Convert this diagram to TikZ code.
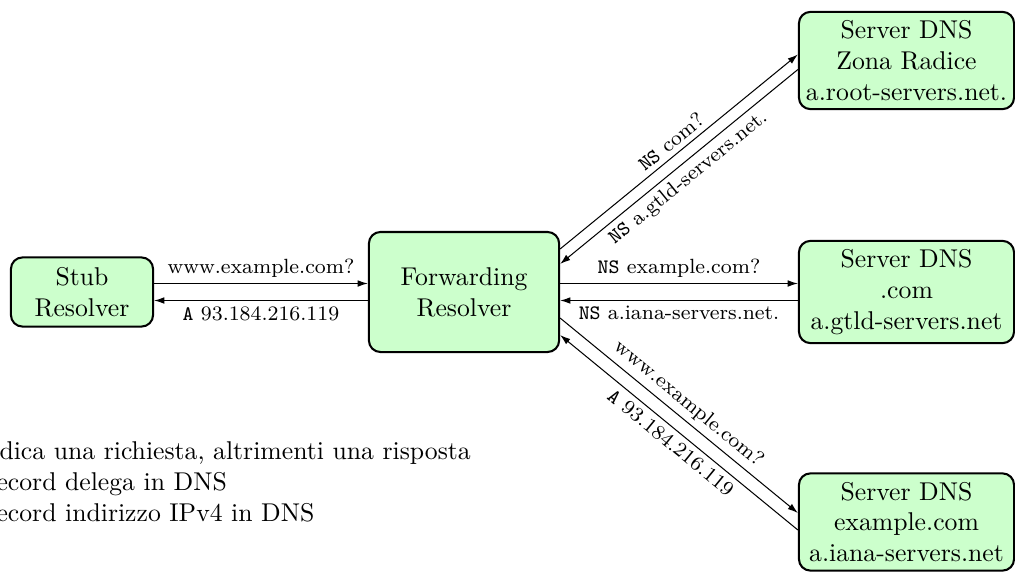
\documentclass[tikz,border=0pt]{standalone}
\usetikzlibrary{calc,arrows.meta}
\begin{document}
\begin{tikzpicture}[x=0.389pt,y=-0.389pt,
  box/.style={draw,thick,rounded corners=4.5pt,fill=green!20,align=center},
  server/.style={box,inner xsep=2pt,minimum width=83.7pt},
  arr/.style={-{Latex[length=4pt,width=2.6pt]}},
  lab/.style={font=\footnotesize,inner sep=2pt},
  leg/.style={inner sep=0pt,anchor=base west}]
\useasboundingbox (0,0) rectangle (1015,573);
\clip (0,0) rectangle (1015,573);
\node[box,minimum width=55.3pt,minimum height=26.9pt] (stub) at (82,292) {Stub\\Resolver};
\node[box,minimum width=74pt,minimum height=46.7pt] (fr) at (464,292) {Forwarding\\Resolver};
\node[server] (root) at (906.5,60.5) {Server DNS\\Zona Radice\\a.root-servers.net.};
\node[server] (com) at (906.5,292) {Server DNS\\.com\\a.gtld-servers.net};
\node[server] (ex) at (906.5,522) {Server DNS\\example.com\\a.iana-servers.net};
\draw[arr] ($(stub.east)+(0,-8.5)$) -- node[lab,above]{www.example.com?} ($(fr.west)+(0,-8.5)$);
\draw[arr] ($(fr.west)+(0,8.5)$) -- node[lab,below]{\texttt{A} 93.184.216.119} ($(stub.east)+(0,8.5)$);
\draw[arr] ($(fr.east)+(0,-8.5)$) -- node[lab,above]{\texttt{NS} example.com?} ($(com.west)+(0,-8.5)$);
\draw[arr] ($(com.west)+(0,8.5)$) -- node[lab,below]{\texttt{NS} a.iana-servers.net.} ($(fr.east)+(0,8.5)$);
\draw[arr] ($(fr.north east)+(0,18)$) -- node[lab,sloped,above]{\texttt{NS} com?} ($(root.west)+(0,-6)$);
\draw[arr] ($(root.west)+(0,9)$) -- node[lab,sloped,below]{\texttt{NS} a.gtld-servers.net.} ($(fr.north east)+(0,33)$);
\draw[arr] ($(fr.south east)+(0,-35)$) -- node[lab,sloped,above]{www.example.com?} ($(ex.west)+(0,-9)$);
\draw[arr] ($(ex.west)+(0,8)$) -- node[lab,sloped,below]{\texttt{A} 93.184.216.119} ($(fr.south east)+(0,-18)$);
\node[leg] (l1) at (-1,459) {dica una richiesta, altrimenti una risposta};
\node[leg] (l2) at (-4,490.5) {ecord delega in DNS};
\node[leg] (l3) at (-4,521.5) {ecord indirizzo IPv4 in DNS};
\end{tikzpicture}
\end{document}
